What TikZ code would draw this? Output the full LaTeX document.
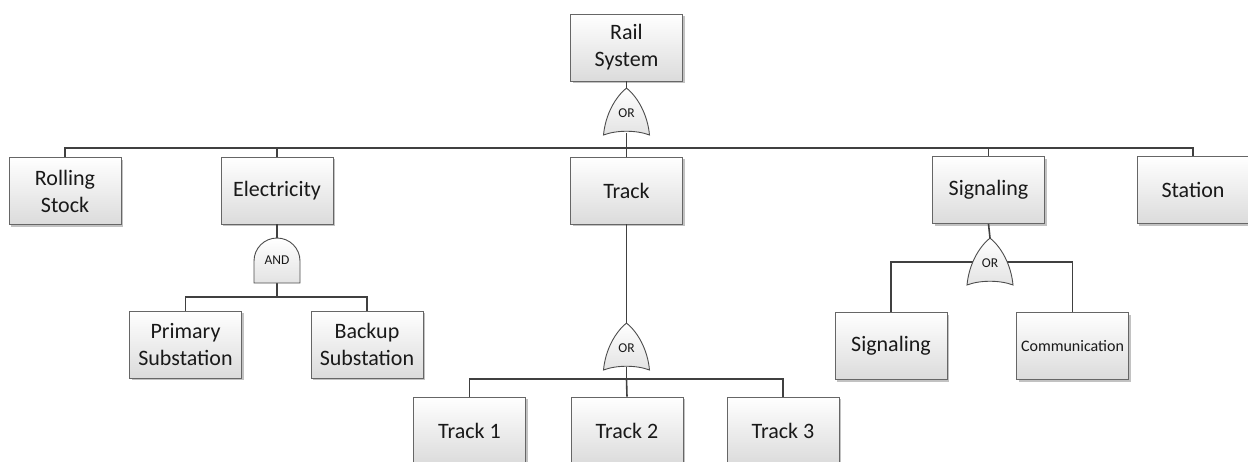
\documentclass[tikz,border=0pt]{standalone}
\usepackage{fontspec}
\setmainfont{Carlito}
\usetikzlibrary{shadows}
\tikzset{
  box/.style={draw=black!60, line width=0.9pt, top color=white, bottom color=black!14,
    minimum width=112pt, minimum height=67pt, inner sep=0pt, align=center,
    font=\fontsize{22}{27}\selectfont, text=black!90,
    drop shadow={shadow xshift=2pt, shadow yshift=-2pt, fill=black!40, opacity=0.6}},
  smallbox/.style={box, font=\fontsize{16}{19}\selectfont},
  conn/.style={draw=black!75, line width=1.6pt},
  gatefill/.style={draw=black!70, line width=0.9pt, top color=white, bottom color=black!11},
  gatelabel/.style={font=\fontsize{13.5}{15}\selectfont, text=black!90, inner sep=0pt},
  orgate/.pic={
    \path[gatefill] (-23,47) .. controls (-21,26) and (-11,9) .. (0,0)
      .. controls (11,9) and (21,26) .. (23,47)
      .. controls (10,42) and (-10,42) .. (-23,47) -- cycle;
    \node[gatelabel] at (0,25) {OR};
  },
  andgate/.pic={
    \path[gatefill] (-23,45) -- (-23,23) .. controls (-23,10.3) and (-12.7,0) .. (0,0)
      .. controls (12.7,0) and (23,10.3) .. (23,23) -- (23,45) -- cycle;
    \node[gatelabel] at (0,22) {AND};
  }
}
\begin{document}
\begin{tikzpicture}[x=1pt, y=-1pt]
\useasboundingbox (0,0) rectangle (1248,461);
\clip (0,0) rectangle (1248,461);
% boxes
\node[box] (rail) at (626.5,47.5) {Rail\\System};
\node[box] (rs) at (65,191) {Rolling\\Stock};
\node[box] (elec) at (277,190.5) {Electricity};
\node[box] (track) at (626.5,190.5) {Track};
\node[box] (sig) at (988.5,190) {Signaling};
\node[box] (stat) at (1193,190) {Station};
\node[box] (prim) at (185.5,344.5) {Primary\\Substation};
\node[box] (back) at (367,344.5) {Backup\\Substation};
\node[box] (t1) at (469.5,430.5) {Track 1};
\node[box] (t2) at (627,430.5) {Track 2};
\node[box] (t3) at (783,430.5) {Track 3};
\node[box] (sig2) at (891,346) {Signaling};
\node[smallbox] (comm) at (1072.5,346) {Communication};
% gate coordinates
\coordinate (g1t) at (626.5,88);
\coordinate (g1b) at (626.5,133);
\coordinate (bar1) at (626.5,148);
\coordinate (g2t) at (277,238);
\coordinate (g2b) at (277,283);
\coordinate (bar2) at (277,297);
\coordinate (g3t) at (626.5,323);
\coordinate (g3b) at (626.5,367);
\coordinate (bar3) at (626.5,379);
\coordinate (g4t) at (990,238);
\coordinate (bar4) at (990,262);
% connectors
\draw[conn] (rail.south) -- (g1t);
\draw[conn] (g1b) -- (bar1);
\draw[conn] (bar1) -| (rs.north);
\draw[conn] (bar1) -| (elec.north);
\draw[conn] (bar1) -- (track.north);
\draw[conn] (bar1) -| (sig.north);
\draw[conn] (bar1) -| (stat.north);
\draw[conn] (elec.south) -- (g2t);
\draw[conn] (g2b) -- (bar2);
\draw[conn] (bar2) -| (prim.north);
\draw[conn] (bar2) -| (back.north);
\draw[conn] (track.south) -- (g3t);
\draw[conn] (g3b) -- (bar3);
\draw[conn] (bar3) -| (t1.north);
\draw[conn] (bar3) -- (t2.north);
\draw[conn] (bar3) -| (t3.north);
\draw[conn] (sig.south) -- (g4t);
\draw[conn] (bar4) -| (sig2.north);
\draw[conn] (bar4) -| (comm.north);
% gates
\pic at (g1t) {orgate};
\pic at (g2t) {andgate};
\pic at (g3t) {orgate};
\pic at (g4t) {orgate};
\end{tikzpicture}
\end{document}
